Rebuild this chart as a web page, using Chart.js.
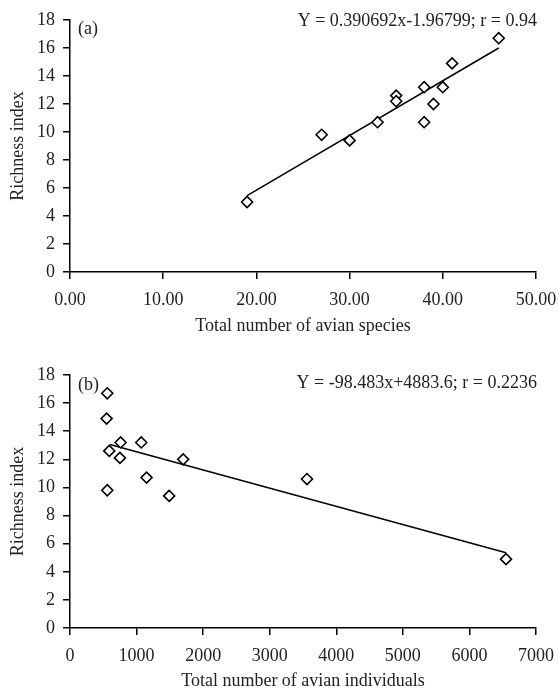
<!DOCTYPE html>
<html>
<head>
<meta charset="utf-8">
<script src="https://cdn.jsdelivr.net/npm/chart.js@4"></script>
<style>
  body { margin: 0; background: #fff; }
  canvas { display: block; }
</style>
</head>
<body>
<canvas id="chart-a" width="559" height="346"></canvas>
<canvas id="chart-b" width="559" height="346"></canvas>
<script>
// panel (a): richness vs total number of species
const speciesTotals = [19, 27, 30, 33, 35, 35, 38, 38, 39, 40, 41, 46];
const richnessA = [5.0, 9.8, 9.4, 10.7, 12.6, 12.2, 13.2, 10.7, 12.0, 13.2, 14.9, 16.7];
const trendAX = [19, 46];
const trendAY = [5.45, 16.0];

// panel (b): richness vs total number of individuals
const individualTotals = [6550, 560, 1490, 1150, 590, 750, 760, 3560, 1700, 1070, 550, 560];
const richnessB = [4.9, 9.8, 9.4, 10.7, 12.6, 12.1, 13.2, 10.6, 12.0, 13.2, 14.9, 16.7];
const trendBX = [600, 6550];
const trendBY = [13.05, 5.35];

const richnessTicks = [0, 2, 4, 6, 8, 10, 12, 14, 16, 18];

const FONT = "'Liberation Serif', 'Times New Roman', serif";
const INK = "#222";
const SIZE = 18;

const notes = {
  id: "notes",
  afterDraw(chart, args, opts) {
    const { ctx, chartArea } = chart;
    ctx.save();
    ctx.font = SIZE + "px " + FONT;
    ctx.fillStyle = INK;
    ctx.textBaseline = "middle";
    ctx.textAlign = "left";
    ctx.fillText(opts.panel, chartArea.left + 8, chartArea.top + opts.panelDy);
    ctx.textAlign = "right";
    ctx.fillText(opts.equation, chartArea.right + 1, chartArea.top + opts.eqDy);
    ctx.restore();
  }
};

function toPoints(xs, ys) {
  return xs.map((x, i) => ({ x: x, y: ys[i] }));
}

function makeChart(id, cfg) {
  const axisGrid = {
    drawOnChartArea: false,
    drawTicks: true,
    tickLength: 7,
    tickColor: "#000",
    lineWidth: 1.5
  };
  const axisBorder = { display: true, color: "#000", width: 1.5 };

  return new Chart(document.getElementById(id), {
    type: "scatter",
    data: {
      datasets: [
        {
          data: toPoints(cfg.xs, cfg.ys),
          pointStyle: "rectRot",
          pointRadius: 5.5,
          pointBorderWidth: 1.6,
          pointBorderColor: "#000",
          pointBackgroundColor: "#fff",
          order: 1
        },
        {
          data: toPoints(cfg.trendX, cfg.trendY),
          showLine: true,
          pointRadius: 0,
          borderColor: "#000",
          borderWidth: 1.5,
          order: 2
        }
      ]
    },
    options: {
      responsive: false,
      animation: false,
      devicePixelRatio: 1,
      layout: { padding: cfg.padding },
      plugins: {
        legend: { display: false },
        tooltip: { enabled: false },
        notes: cfg.notes
      },
      scales: {
        x: {
          type: "linear",
          min: cfg.xMin,
          max: cfg.xMax,
          grid: axisGrid,
          border: axisBorder,
          ticks: {
            stepSize: cfg.xStep,
            padding: 10,
            color: INK,
            font: { family: FONT, size: SIZE },
            maxRotation: 0,
            callback: cfg.xFormat
          },
          title: {
            display: true,
            text: cfg.xTitle,
            color: INK,
            font: { family: FONT, size: SIZE },
            padding: { top: 0, bottom: cfg.xTitlePad }
          },
          afterFit: (scale) => {
            scale.height = cfg.xHeight;
            scale.paddingLeft = 0;
            scale.paddingRight = 0;
          }
        },
        y: {
          type: "linear",
          min: 0,
          max: 18,
          grid: axisGrid,
          border: axisBorder,
          afterBuildTicks: (scale) => {
            scale.ticks = richnessTicks.map(v => ({ value: v }));
          },
          ticks: {
            padding: 8,
            color: INK,
            font: { family: FONT, size: SIZE }
          },
          title: {
            display: true,
            text: "Richness index",
            color: INK,
            font: { family: FONT, size: SIZE },
            padding: { top: 7, bottom: 0 }
          },
          afterFit: (scale) => {
            scale.width = 70;
            scale.paddingTop = 0;
            scale.paddingBottom = 0;
          }
        }
      }
    },
    plugins: [notes]
  });
}

makeChart("chart-a", {
  xs: speciesTotals,
  ys: richnessA,
  trendX: trendAX,
  trendY: trendAY,
  xMin: 0,
  xMax: 50,
  xStep: 10,
  xFormat: v => v.toFixed(2),
  xTitle: "Total number of avian species",
  xTitlePad: 9,
  xHeight: 74,
  padding: { top: 20, right: 23, bottom: 0, left: 0 },
  notes: { panel: "(a)", equation: "Y = 0.390692x-1.96799; r = 0.94", panelDy: 9, eqDy: 1.5 }
});

makeChart("chart-b", {
  xs: individualTotals,
  ys: richnessB,
  trendX: trendBX,
  trendY: trendBY,
  xMin: 0,
  xMax: 7000,
  xStep: 1000,
  xFormat: v => String(v),
  xTitle: "Total number of avian individuals",
  xTitlePad: 0,
  xHeight: 64,
  padding: { top: 29, right: 23, bottom: 0, left: 0 },
  notes: { panel: "(b)", equation: "Y = -98.483x+4883.6; r = 0.2236", panelDy: 10, eqDy: 8 }
});
</script>
</body>
</html>
